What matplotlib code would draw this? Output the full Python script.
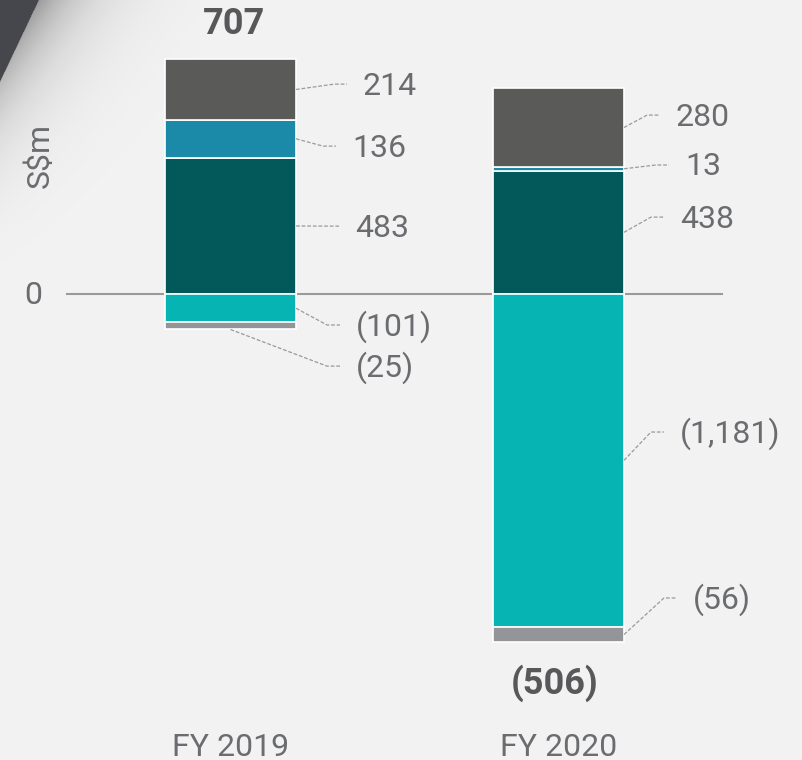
import numpy as np
import matplotlib
matplotlib.use('Agg')
import matplotlib.pyplot as plt
from matplotlib.patches import Polygon

plt.rcParams['font.family'] = ['Roboto', 'DejaVu Sans']

years = ['FY 2019', 'FY 2020']
totals = [707, -506]
# positive components, bottom to top
pos_teal_dark = [483, 438]
pos_blue = [136, 13]
pos_grey_dark = [214, 280]
# negative components, top to bottom
neg_teal = [-101, -1181]
neg_grey = [-25, -56]

c_teal_dark = '#03595a'
c_blue = '#1b8aa9'
c_grey_dark = '#5a5a58'
c_teal = '#07b4b4'
c_grey = '#949599'
bg = '#f2f2f2'
txt = '#6b6c6f'

# label layout: text left offset from bar right edge (px) and text centre y (S$m)
lab_dx = [[59, 56, 67, 60, 60], [56, 61, 52, 56, 69]]
lab_y = [[234, 518, 738, -117, -263], [266, 451, 628, -497, -1086]]
total_y = [960, -1380]
total_dx = [4, -4]

W, H = 803, 760
px_per_unit = 0.2817
zero_px = 294
x0_px, step_px = 230.5, 328
bw = 131 / step_px


def fmt(v):
    s = f'{abs(v):,}'
    return f'({s})' if v < 0 else s


fig = plt.figure(figsize=(W / 100, H / 100), dpi=100, facecolor=bg)

# corner decoration
deco = fig.add_axes([0, 0, 1, 1], zorder=0)
deco.set_xlim(0, W)
deco.set_ylim(H, 0)
deco.axis('off')
gx, gy = np.meshgrid(np.arange(0, 200) + 0.5, np.arange(0, 340) + 0.5)
nrm = np.hypot(82, 39)
d = ((gx - 39) * 82 + gy * 39) / nrm
fade = np.clip(1 - gy / 320, 0, 1) ** 1.5
alpha = np.where(d > 0, 0.36 * np.exp(-d / 40) * fade, 0)
img = np.zeros((340, 200, 4))
img[..., 3] = alpha
deco.imshow(img, extent=(0, 200, 340, 0), interpolation='bilinear', zorder=1)
deco.add_patch(Polygon([(0, 0), (39, 0), (0, 82)], closed=True,
                       facecolor='#45474d', edgecolor='none', zorder=2))

ax = fig.add_axes([0, 0, 1, 1], zorder=1)
ax.patch.set_alpha(0)
ax.set_xlim(-x0_px / step_px, (W - x0_px) / step_px)
ax.set_ylim((zero_px - H) / px_per_unit, zero_px / px_per_unit)
ax.axis('off')

x = np.arange(len(years))
ax.plot([-163.5 / step_px, 491.5 / step_px], [0, 0], color='#9a9a9a', lw=1.5, zorder=1)

ekw = dict(edgecolor='white', linewidth=1.2, width=bw, zorder=2)
b1 = np.array(pos_teal_dark)
b2 = b1 + np.array(pos_blue)
ax.bar(x, pos_teal_dark, color=c_teal_dark, **ekw)
ax.bar(x, pos_blue, bottom=b1, color=c_blue, **ekw)
ax.bar(x, pos_grey_dark, bottom=b2, color=c_grey_dark, **ekw)
n1 = np.array(neg_teal)
ax.bar(x, neg_teal, color=c_teal, **ekw)
ax.bar(x, neg_grey, bottom=n1, color=c_grey, **ekw)

dash = dict(color='#9a9a9a', lw=0.9, ls=(0, (3, 1.5)), zorder=3)
for i in range(len(years)):
    right = x[i] + bw / 2
    segs = [
        (pos_teal_dark[i], pos_teal_dark[i] / 2),
        (pos_blue[i], b1[i] + pos_blue[i] / 2),
        (pos_grey_dark[i], b2[i] + pos_grey_dark[i] / 2),
        (neg_teal[i], neg_teal[i] / 2),
        (neg_grey[i], n1[i] + neg_grey[i] / 2),
    ]
    for k, (v, mid) in enumerate(segs):
        tx = right + lab_dx[i][k] / step_px
        ty = lab_y[i][k]
        ly = ty + 7
        sx, sy = right, mid
        if i == 0 and k == 4:
            sx, sy = x[i], n1[i] + neg_grey[i]
        ax.plot([sx, tx - 29 / step_px, tx - 16 / step_px], [sy, ly, ly], **dash)
        ax.text(tx, ty, fmt(v), fontsize=23, color=txt, ha='left', va='center')
    ax.text(x[i] + total_dx[i] / step_px, total_y[i], fmt(totals[i]), fontsize=26,
            fontweight='bold', color='#58585a', ha='center', va='center')
    ax.text(x[i], (zero_px - 747) / px_per_unit, years[i], fontsize=23,
            color=txt, ha='center', va='center')

ax.text((40 - x0_px) / step_px, (zero_px - 155) / px_per_unit, 'S$m', fontsize=23,
        color=txt, rotation=90, ha='center', va='center')
ax.text((33 - x0_px) / step_px, -7, '0', fontsize=23, color=txt, ha='center', va='center')

fig.savefig('out.png', dpi=100, facecolor=bg)
